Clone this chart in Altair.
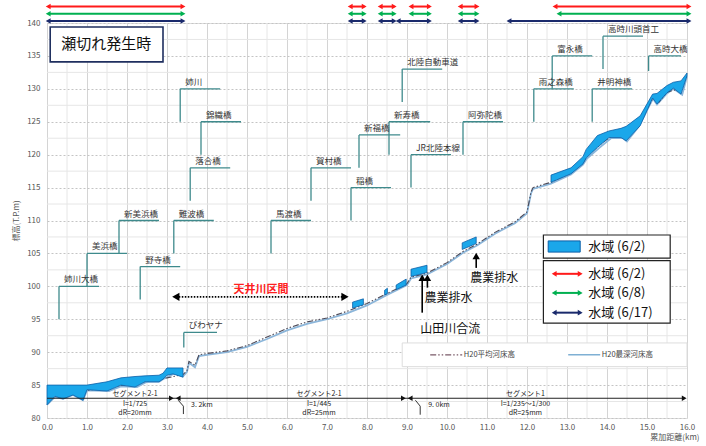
import altair as alt
import pandas as pd

FONT = "Noto Sans CJK JP"

# ---------------- bed profile (H20) ----------------
mean_x = [0.0, 0.5, 1.0, 1.5, 2.0, 2.5, 3.0, 3.4, 3.5, 3.55, 3.7, 3.8, 4.0, 4.5, 5.0, 5.5, 6.0, 6.5, 7.0, 7.5,
          8.0, 8.5, 9.0, 9.1, 9.5, 10.0, 10.4, 10.75, 11.2, 11.7, 12.0, 12.1, 12.15, 12.6, 13.1, 13.4, 13.5,
          13.8, 14.1, 14.4, 14.8, 15.15, 15.3, 15.5, 15.8, 16.0]
mean_y = [83.3, 83.7, 84.2, 84.6, 85.1, 85.6, 86.1, 86.6, 87.2, 88.6, 88.0, 89.6, 89.8, 90.2, 91.0, 92.3, 93.6, 94.6, 95.2, 96.2,
          97.4, 98.9, 100.4, 101.4, 102.0, 103.6, 105.3, 106.4, 108.2, 109.8, 111.3, 114.3, 115.0, 115.8, 117.3, 118.8, 119.8,
          121.4, 122.8, 122.8, 124.8, 128.6, 128.0, 129.5, 130.0, 132.0]

deep_x = [0.0, 0.2, 0.4, 0.65, 0.9, 1.0, 1.55, 1.85, 2.25, 2.5, 2.8, 2.9, 3.2, 3.4, 3.5, 3.55, 3.7, 3.8,
          4.0, 4.5, 5.0, 5.5, 6.0, 6.5, 7.0, 7.5, 8.0, 8.5, 9.0, 9.1, 9.5, 10.0, 10.4, 10.75, 11.2, 11.7,
          12.0, 12.1, 12.15, 12.6, 13.1, 13.4, 13.5, 13.8, 14.1, 14.4, 14.5, 14.8, 15.15, 15.25, 15.5, 15.66, 15.88, 16.0]
deep_y = [82.0, 83.2, 82.9, 83.5, 82.7, 84.2, 84.1, 84.8, 84.7, 85.5, 85.5, 85.9, 86.8, 86.3, 87.0, 88.4, 87.7, 89.4,
          89.6, 90.0, 90.8, 92.0, 93.3, 94.3, 95.0, 95.9, 97.1, 98.7, 100.2, 101.2, 101.8, 103.4, 105.1, 106.2, 108.0, 109.6,
          111.1, 114.1, 114.8, 115.6, 117.0, 118.5, 119.4, 121.0, 122.5, 122.5, 122.0, 124.3, 128.5, 127.6, 129.3, 130.0, 129.1, 131.9]

# ---------------- water area 6/2 (polygons) ----------------
wp1_x = [0.0, 0.2, 0.4, 0.65, 0.9, 1.0, 1.5, 1.85, 2.2, 2.45, 2.8, 2.9, 3.0, 3.15, 3.4]
wp1_top = [85.0, 85.0, 85.0, 85.0, 85.0, 85.0, 85.5, 86.1, 86.3, 86.4, 86.5, 86.8, 87.6, 87.6, 87.6]
wp1_bot = [82.0, 83.3, 82.9, 83.5, 82.7, 84.3, 84.1, 85.0, 84.7, 85.5, 85.5, 85.9, 86.5, 86.7, 86.2]
wp2_x, wp2_top, wp2_bot = [7.64, 7.91], [97.6, 98.1], [96.7, 97.2]
wp3_x, wp3_top, wp3_bot = [8.44, 8.51], [99.4, 99.7], [98.7, 98.9]
wp4_x, wp4_top, wp4_bot = [8.73, 8.98], [100.2, 101.1], [99.5, 100.2]
wp5_x, wp5_top, wp5_bot = [9.1, 9.5], [102.6, 103.2], [101.5, 102.1]
wp6_x, wp6_top, wp6_bot = [10.38, 10.73], [106.6, 107.5], [105.6, 106.5]
wp7_x = [12.6, 13.1, 13.4, 13.48, 13.76, 14.05, 14.35, 14.48, 14.83, 15.14, 15.25, 15.5, 15.66, 15.85, 16.0]
wp7_top = [116.9, 118.0, 119.7, 120.8, 122.9, 123.6, 124.0, 124.3, 125.9, 129.2, 129.3, 130.5, 131.0, 131.2, 132.4]
wp7_bot = [115.8, 117.1, 118.6, 119.5, 121.1, 122.6, 122.6, 122.1, 124.4, 128.6, 127.7, 129.4, 130.1, 129.2, 132.0]

# ---------------- bridges ----------------
bridge_names = ["姉川大橋", "美浜橋", "新美浜橋", "野寺橋", "難波橋", "落合橋", "錦織橋", "姉川", "びわヤナ",
                "馬渡橋", "賀村橋", "稲橋", "新福橋", "新寿橋", "北陸自動車道", "JR北陸本線", "阿弥陀橋",
                "雨之森橋", "富永橋", "井明神橋", "高時川頭首工", "高時大橋"]
bridge_x = [0.3, 1.0, 1.8, 2.33, 3.17, 3.58, 3.85, 3.33, 3.42, 5.6, 6.6, 7.6, 7.8, 8.55, 8.88, 9.1, 10.4,
            12.17, 12.63, 13.63, 13.9, 15.04]
bridge_y0 = [95, 100, 105, 98, 105, 113, 120, 125, 90.7, 105, 113, 110, 118, 120, 128, 115, 120,
             125, 130, 125, 133, 132.7]
bridge_y1 = [100, 105, 110, 103, 110, 118, 125, 130, 93, 110, 118, 115, 123, 125, 133, 120, 125,
             130, 135, 130, 138, 135]
bridge_xend = [1.3, 2.0, 2.8, 3.33, 4.17, 4.58, 4.85, 4.33, 4.25, 6.6, 7.6, 8.6, 8.83, 9.58, 9.88, 10.1, 11.4,
               13.17, 13.63, 14.63, 14.9, 15.85]

# ---------------- water-area arrows (6/2, 6/8, 6/17) ----------------
red_start = [0.03, 7.58, 8.33, 9.1, 10.33, 12.7]
red_end = [3.4, 7.93, 8.68, 9.56, 10.75, 16.05]
green_start = [0.03, 7.58, 8.33, 9.1, 10.33, 12.8]
green_end = [3.4, 7.93, 8.68, 9.56, 10.75, 16.05]
navy_start = [0.03, 7.58, 8.33, 8.78, 10.33, 11.55]
navy_end = [3.4, 7.93, 8.68, 9.56, 10.75, 16.05]
arrow_rows_y = [142.5, 141.4, 140.3]
arrow_colors = ["#ff1a1a", "#00b050", "#1a2a6c"]
legend_labels = ["水域 (6/2)", "水域 (6/8)", "水域 (6/17)"]
legend_rows_y = [101.9, 99.0, 96.0]

# ---------------- grid lines ----------------
minor_x = [0.5, 1.5, 2.5, 3.5, 4.5, 5.5, 6.5, 7.5, 8.5, 9.5, 10.5, 11.5, 12.5, 13.5, 14.5, 15.5]
minor_y = [82.5, 87.5, 92.5, 97.5, 102.5, 107.5, 112.5, 117.5, 122.5, 127.5, 132.5, 137.5]

# ---------------- scales/axes ----------------
xs = alt.Scale(domain=[0, 16], nice=False, zero=False)
ys = alt.Scale(domain=[80, 140], nice=False, zero=False)
xaxis = alt.Axis(values=list(range(0, 17)), format=".1f", labelFontSize=8, labelColor="#555",
                 grid=True, gridColor="#d4d4d4", domain=False, ticks=False, labelPadding=5, labelFlush=False,
                 title="累加距離(km)", titleFontSize=8, titleFontWeight="normal", titleColor="#555",
                 titleX=652, titleY=19, titleAlign="right", titleBaseline="middle")
yaxis = alt.Axis(values=list(range(80, 141, 5)), labelFontSize=8, labelColor="#555", labelFlush=False,
                 grid=True, gridColor="#c4c4c4", gridDash=[2, 2], domain=False, ticks=False, labelPadding=7,
                 title="標高(T.P.m)", titleFontSize=8, titleFontWeight="normal", titleColor="#555", titlePadding=6)


def X(f):
    return alt.X(f, type="quantitative", scale=xs, axis=xaxis)


def Y(f):
    return alt.Y(f, type="quantitative", scale=ys, axis=yaxis)


layers = []

# grid
layers.append(alt.Chart(pd.DataFrame({"x": minor_x})).mark_rule(color="#e6e6e6", strokeWidth=1).encode(
    x=X("x:Q")))
layers.append(alt.Chart(pd.DataFrame({"y": minor_y})).mark_rule(color="#e6e6e6", strokeWidth=1).encode(
    y=Y("y:Q")))

# bridges
bdf = pd.DataFrame({"name": bridge_names, "x": bridge_x, "y0": bridge_y0, "y1": bridge_y1, "xe": bridge_xend})
bcol = "#3e8a8c"
layers.append(alt.Chart(bdf).mark_rule(color=bcol, strokeWidth=1.3).encode(
    x=X("x:Q"), y=Y("y0:Q"), y2="y1:Q"))
layers.append(alt.Chart(bdf).mark_rule(color=bcol, strokeWidth=1.3).encode(
    x=X("x:Q"), x2="xe:Q", y=Y("y1:Q")))
layers.append(alt.Chart(bdf).mark_text(align="left", baseline="bottom", dx=5, dy=-2, fontSize=8.5,
                                       color="#333", font=FONT).encode(
    x=X("x:Q"), y=Y("y1:Q"), text="name:N"))

# boxes (title box, legends) - drawn under their contents
box_x = [0.08, 12.41, 12.41, 8.88]
box_x2 = [2.9, 15.58, 15.58, 16.0]
box_y = [139.4, 107.8, 103.9, 91.4]
box_y2 = [134.1, 104.3, 94.4, 87.8]
box_stroke = ["#1f2f5f", "#222", "#222", "#dddddd"]
box_w = [1.6, 1.2, 1.2, 1.0]
bxdf = pd.DataFrame({"x": box_x, "x2": box_x2, "y": box_y, "y2": box_y2, "s": box_stroke, "w": box_w})
layers.append(alt.Chart(bxdf).mark_rect(fill="white").encode(
    x=X("x:Q"), x2="x2:Q", y=Y("y:Q"), y2="y2:Q",
    stroke=alt.Stroke("s:N", scale=None), strokeWidth=alt.StrokeWidth("w:Q", scale=None)))

# bed lines
layers.append(alt.Chart(pd.DataFrame({"x": deep_x, "y": deep_y})).mark_line(
    color="#8cb6da", strokeWidth=1.8).encode(x=X("x:Q"), y=Y("y:Q")))
layers.append(alt.Chart(pd.DataFrame({"x": mean_x, "y": mean_y})).mark_line(
    color="#4d4a58", strokeWidth=1.1, strokeDash=[6, 2, 1.5, 2, 1.5, 2]).encode(x=X("x:Q"), y=Y("y:Q")))

# water patches
wps = [(wp1_x, wp1_top, wp1_bot), (wp2_x, wp2_top, wp2_bot), (wp3_x, wp3_top, wp3_bot),
       (wp4_x, wp4_top, wp4_bot), (wp5_x, wp5_top, wp5_bot), (wp6_x, wp6_top, wp6_bot),
       (wp7_x, wp7_top, wp7_bot)]
rows = []
for i, (xx, tt, bb) in enumerate(wps):
    for a, b, c in zip(xx, tt, bb):
        rows.append({"id": i, "x": a, "top": b, "bot": c})
wdf = pd.DataFrame(rows)
layers.append(alt.Chart(wdf).mark_area(fill="#1aa7ea", stroke="#0b5fa8", strokeWidth=0.8, opacity=1).encode(
    x=X("x:Q"), y=Y("top:Q"), y2="bot:Q", detail="id:N"))

# top arrows + legend arrows
arows = []
for starts, ends, yy, col in zip([red_start, green_start, navy_start], [red_end, green_end, navy_end],
                                 arrow_rows_y, arrow_colors):
    for s, e in zip(starts, ends):
        arows.append({"x": s, "x2": e, "y": yy, "c": col})
for yy, col in zip(legend_rows_y, arrow_colors):
    arows.append({"x": 12.68, "x2": 13.33, "y": yy, "c": col})
adf = pd.DataFrame(arows)
layers.append(alt.Chart(adf).mark_rule(strokeWidth=2).encode(
    x=X("x:Q"), x2="x2:Q", y=Y("y:Q"), color=alt.Color("c:N", scale=None)))
layers.append(alt.Chart(adf).mark_point(shape="triangle-left", filled=True, size=32, opacity=1).encode(
    x=X("x:Q"), y=Y("y:Q"), color=alt.Color("c:N", scale=None)))
layers.append(alt.Chart(adf).mark_point(shape="triangle-right", filled=True, size=32, opacity=1).encode(
    x=X("x2:Q"), y=Y("y:Q"), color=alt.Color("c:N", scale=None)))

# 天井川区間 dotted arrow
tj = pd.DataFrame({"x": [3.22], "x2": [7.45], "y": [98.4]})
layers.append(alt.Chart(tj).mark_rule(color="black", strokeWidth=1.6, strokeDash=[1.5, 1.5]).encode(
    x=X("x:Q"), x2="x2:Q", y=Y("y:Q")))
layers.append(alt.Chart(tj).mark_point(shape="triangle-left", filled=True, size=70, color="black", opacity=1).encode(
    x=X("x:Q"), y=Y("y:Q")))
layers.append(alt.Chart(tj).mark_point(shape="triangle-right", filled=True, size=70, color="black", opacity=1).encode(
    x=X("x2:Q"), y=Y("y:Q")))
layers.append(alt.Chart(pd.DataFrame({"x": [5.35], "y": [99.5], "t": ["天井川区間"]})).mark_text(
    fontSize=11, color="#ff2020", font=FONT, fontWeight="bold").encode(x=X("x:Q"), y=Y("y:Q"), text="t:N"))

# 農業排水 arrows
drain_x = [9.38, 9.51, 10.73]
drain_y0 = [96.0, 99.8, 102.8]
drain_tip = [101.8, 101.8, 105.1]
ddf = pd.DataFrame({"x": drain_x, "y0": drain_y0, "y1": drain_tip,
                    "yh": [t - 0.5 for t in drain_tip]})
layers.append(alt.Chart(ddf).mark_rule(color="black", strokeWidth=1.6).encode(
    x=X("x:Q"), y=Y("y0:Q"), y2="yh:Q"))
layers.append(alt.Chart(ddf).mark_point(shape="triangle-up", filled=True, size=55, color="black", opacity=1).encode(
    x=X("x:Q"), y=Y("yh:Q")))
note_txt = ["農業排水", "山田川合流", "農業排水"]
note_x = [10.04, 10.08, 11.18]
note_y = [98.3, 93.5, 101.3]
layers.append(alt.Chart(pd.DataFrame({"x": note_x, "y": note_y, "t": note_txt})).mark_text(
    fontSize=12, color="#111111", font=FONT).encode(x=X("x:Q"), y=Y("y:Q"), text="t:N"))

# title box text
layers.append(alt.Chart(pd.DataFrame({"x": [1.48], "y": [136.75], "t": ["瀬切れ発生時"]})).mark_text(
    fontSize=15, color="#111", font=FONT).encode(x=X("x:Q"), y=Y("y:Q"), text="t:N"))

# legend: water area swatch
layers.append(alt.Chart(pd.DataFrame({"x": [12.53], "x2": [13.33], "y": [106.9], "y2": [105.2]})).mark_rect(
    fill="#1aa7ea", stroke="#0b5fa8", strokeWidth=1).encode(x=X("x:Q"), x2="x2:Q", y=Y("y:Q"), y2="y2:Q"))
lg_txt = ["水域 (6/2)"] + legend_labels
lg_y = [106.0] + legend_rows_y
layers.append(alt.Chart(pd.DataFrame({"x": [13.53] * 4, "y": lg_y, "t": lg_txt})).mark_text(
    align="left", fontSize=13, color="#111", font=FONT).encode(x=X("x:Q"), y=Y("y:Q"), text="t:N"))

# bottom legend (bed lines)
layers.append(alt.Chart(pd.DataFrame({"x": [9.58], "x2": [10.38], "y": [89.6]})).mark_rule(
    color="#7a5a68", strokeWidth=1.2, strokeDash=[6, 2, 1.5, 2, 1.5, 2]).encode(x=X("x:Q"), x2="x2:Q", y=Y("y:Q")))
layers.append(alt.Chart(pd.DataFrame({"x": [13.03], "x2": [13.83], "y": [89.6]})).mark_rule(
    color="#7fb0d4", strokeWidth=1.4).encode(x=X("x:Q"), x2="x2:Q", y=Y("y:Q")))
layers.append(alt.Chart(pd.DataFrame({"x": [10.42, 13.87], "y": [89.6, 89.6],
                                      "t": ["H20平均河床高", "H20最深河床高"]})).mark_text(
    align="left", fontSize=7.5, color="#444", font=FONT).encode(x=X("x:Q"), y=Y("y:Q"), text="t:N"))

# segment line & markers
layers.append(alt.Chart(pd.DataFrame({"x": [0.0], "x2": [15.95], "y": [83.0]})).mark_rule(
    color="#222", strokeWidth=1).encode(x=X("x:Q"), x2="x2:Q", y=Y("y:Q")))
seg_r = pd.DataFrame({"x": [3.11, 8.91, 15.93], "y": [83.0] * 3})
seg_l = pd.DataFrame({"x": [3.28, 9.08], "y": [83.0] * 2})
layers.append(alt.Chart(seg_r).mark_point(shape="triangle-right", filled=True, size=30, color="#111", opacity=1).encode(
    x=X("x:Q"), y=Y("y:Q")))
layers.append(alt.Chart(seg_l).mark_point(shape="triangle-left", filled=True, size=30, color="#111", opacity=1).encode(
    x=X("x:Q"), y=Y("y:Q")))
mk = pd.DataFrame({"id": [0, 0, 0, 1, 1, 1],
                   "x": [3.28, 3.41, 3.41, 9.21, 9.33, 9.33],
                   "y": [82.7, 81.8, 80.6, 82.7, 81.8, 80.5],
                   "o": [0, 1, 2, 0, 1, 2]})
layers.append(alt.Chart(mk).mark_line(color="#333", strokeWidth=1).encode(
    x=X("x:Q"), y=Y("y:Q"), detail="id:N", order="o:Q"))
seg_tx = ["セグメント2-1", "I=1/725", "dR=20mm", "セグメント2-1", "I=1/445", "dR=25mm",
          "セグメント1", "I=1/235～1/300", "dR=25mm", "3. 2km", "9. 0km"]
seg_x = [2.2, 2.2, 2.2, 6.8, 6.8, 6.8, 11.96, 11.96, 11.96, 3.6, 9.53]
seg_y = [83.7, 82.2, 80.75, 83.7, 82.2, 80.75, 83.7, 82.2, 80.75, 82.0, 82.0]
seg_al = ["center"] * 9 + ["left", "left"]
sdf = pd.DataFrame({"x": seg_x, "y": seg_y, "t": seg_tx, "a": seg_al})
layers.append(alt.Chart(sdf[sdf.a == "center"]).mark_text(fontSize=7, lineHeight=8, color="#222", font=FONT).encode(
    x=X("x:Q"), y=Y("y:Q"), text="t:N"))
layers.append(alt.Chart(sdf[sdf.a == "left"]).mark_text(align="left", fontSize=7, color="#222", font=FONT).encode(
    x=X("x:Q"), y=Y("y:Q"), text="t:N"))

chart = alt.layer(*layers).properties(
    width=640, height=395,
    padding={"left": 47, "top": 23, "right": 19, "bottom": 28},
    autosize=alt.AutoSizeParams(type="none"),
    background="white",
).configure_view(stroke="#a8a8a8", strokeWidth=2).configure(font=FONT)

chart.save("out.html", embed_options={"renderer": "svg", "actions": False})
